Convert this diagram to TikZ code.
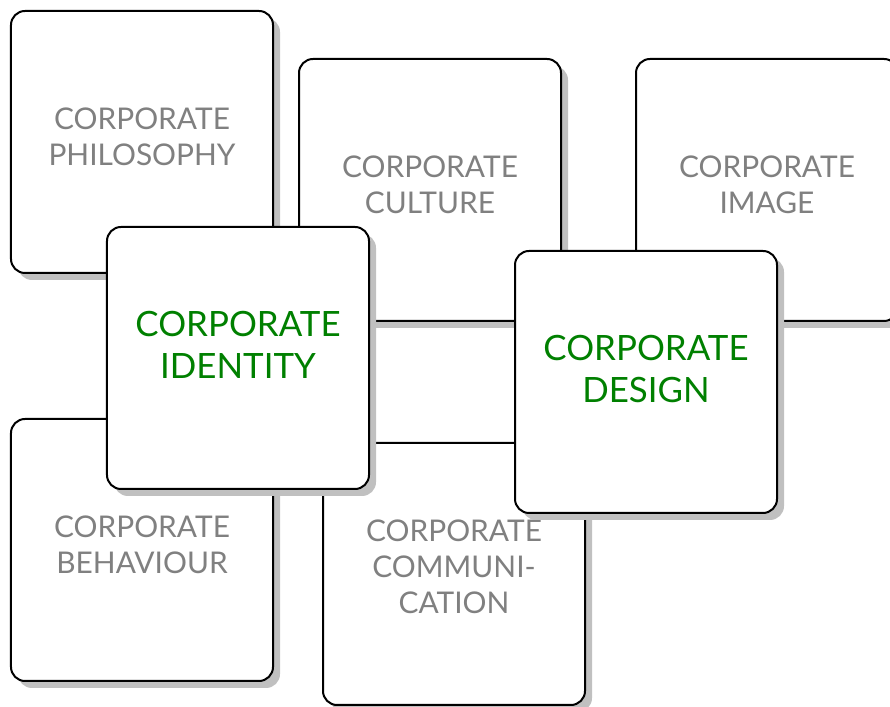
\documentclass[tikz,border=0pt]{standalone}
\usepackage{fontspec}
\setmainfont{Lato}
\usetikzlibrary{shadows}

\definecolor{labelgray}{HTML}{808080}
\definecolor{labelgreen}{HTML}{008000}
\definecolor{shadowgray}{HTML}{C0C0C0}

\tikzset{
  card/.style={draw=black, line width=2bp, fill=white, rounded corners=14bp,
    minimum width=262bp, minimum height=262bp, inner sep=0pt,
    drop shadow={shadow xshift=7bp, shadow yshift=-7bp, fill=shadowgray, opacity=1}},
  graylabel/.style={text=labelgray, align=center, font=\fontsize{30}{36}\selectfont},
  greenlabel/.style={text=labelgreen, align=center, font=\fontsize{35}{42}\selectfont}
}

\begin{document}
\begin{tikzpicture}[x=1bp,y=1bp]
    \useasboundingbox (0,0) rectangle (890,707);

    % background cards
    \node[card] (phil) at (142,565) {};
    \node[graylabel] (philtxt) at ([yshift=5]phil.center) {CORPORATE\\PHILOSOPHY};

    \node[card] (cult) at (430,517) {};
    \node[graylabel] (culttxt) at ([yshift=5]cult.center) {CORPORATE\\CULTURE};

    \node[card] (image) at (767,517) {};
    \node[graylabel] (imagetxt) at ([yshift=5]image.center) {CORPORATE\\IMAGE};

    \node[card] (behav) at (142,157) {};
    \node[graylabel] (behavtxt) at ([yshift=5]behav.center) {CORPORATE\\BEHAVIOUR};

    \node[card] (comm) at (454,133) {};
    \node[graylabel] (commtxt) at ([yshift=7]comm.center) {CORPORATE\\COMMUNI-\\CATION};

    % front cards
    \node[card] (ident) at (238,349) {};
    \node[greenlabel] (identtxt) at ([yshift=13]ident.center) {CORPORATE\\IDENTITY};

    \node[card] (design) at (646,325) {};
    \node[greenlabel] (designtxt) at ([yshift=13]design.center) {CORPORATE\\DESIGN};
\end{tikzpicture}
\end{document}
